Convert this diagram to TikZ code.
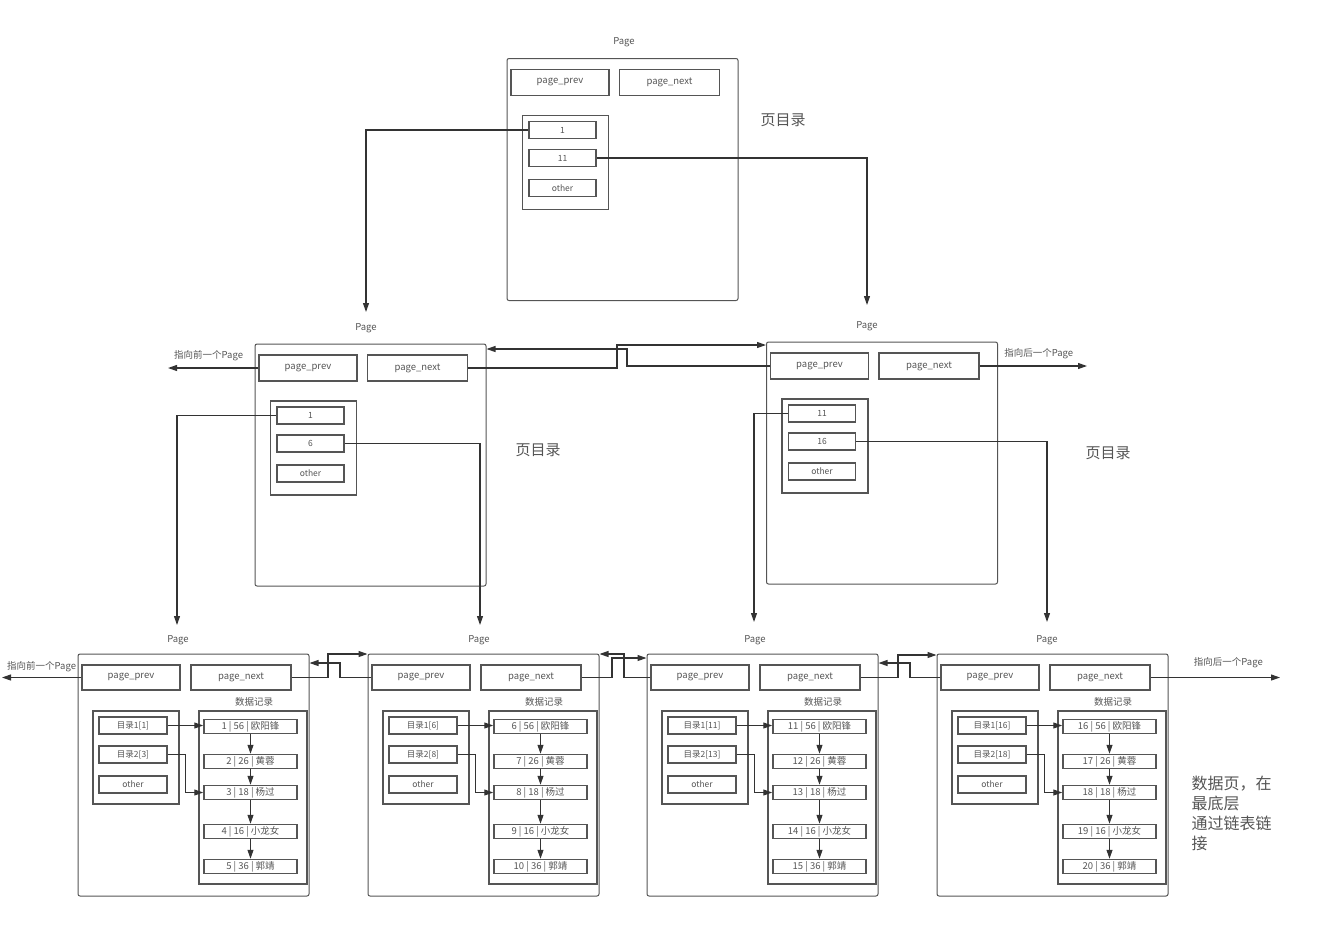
\documentclass[tikz,border=0pt]{standalone}
\usepackage{fontspec}
\setmainfont{Noto Sans CJK SC}
\usetikzlibrary{arrows.meta}
\definecolor{linec}{HTML}{333333}
\definecolor{boxc}{HTML}{555555}
\definecolor{textc}{HTML}{555555}
\tikzset{
  pagebox/.style = {draw=boxc, line width=1pt, rounded corners=2pt, inner sep=0pt,
                    minimum width=231, minimum height=242},
  field/.style   = {draw=boxc, line width=1.5pt, inner sep=0pt, text=textc,
                    font=\fontsize{9.5}{10}\selectfont},
  entry/.style   = {field, minimum width=67, minimum height=17,
                    font=\fontsize{8.5}{9}\selectfont},
  rec/.style     = {field, minimum width=93, minimum height=14},
  dirbox/.style  = {draw=boxc, line width=1.2pt, inner sep=0pt,
                    minimum width=86, minimum height=94},
  lbl/.style     = {font=\fontsize{9.5}{10}\selectfont, text=textc},
  biglbl/.style  = {font=\fontsize{15}{18}\selectfont, text=textc},
  arr/.style     = {draw=linec, line width=1.1pt, -{Triangle[length=9pt,width=6pt]}},
}
\begin{document}
\begin{tikzpicture}[x=1pt, y=-1pt]
\useasboundingbox (0,0) rectangle (1336,930);

% directory pages
\foreach \m/\cx/\cy/\lx/\a/\b in {top/622.5/179.5/624/1/11, ml/370.5/465/366/1/6, mr/882/463/867/11/16} {
  \node[pagebox] (\m) at (\cx,\cy) {};
  \node[lbl] (\m-lbl) at (\lx,\cy-137) {Page};
  \node[field, minimum width=98, minimum height=26] (\m-prev) at (\cx-62.5,\cy-97) {page\_prev};
  \node[field, minimum width=100, minimum height=26] (\m-next) at (\cx+47,\cy-97) {page\_next};
  \node[dirbox] (\m-dir) at (\cx-57,\cy-17) {};
  \node[entry] (\m-1) at (\cx-60,\cy-49.5) {\a};
  \node[entry] (\m-2) at (\cx-60,\cy-21.5) {\b};
  \node[entry] (\m-o) at (\cx-60,\cy+8.5) {other};
}
\node[biglbl] (top-t) at (783,120) {页目录};
\node[biglbl] (ml-t) at (538,450) {页目录};
\node[biglbl] (mr-t) at (1108,453) {页目录};

% free ends
\coordinate (ml-in) at (366,312);
\coordinate (mr-in) at (867,305);
\coordinate (ml-out) at (168,368);
\coordinate (mr-out) at (1087,366);
\coordinate (b1-in) at (177,625);
\coordinate (b2-in) at (480,625);
\coordinate (b3-in) at (754,622);
\coordinate (b4-in) at (1047,622);
\coordinate (b-outl) at (2,677.5);
\coordinate (b-outr) at (1280,677.5);

\draw[arr] (top-1.west) -| (ml-in);
\draw[arr] (top-2.east) -| (mr-in);

\draw[arr] (ml-next.east) -| (617,345) -- (mr.west |- 0,345);
\draw[arr] (mr-prev.west) -| (627,349) -- (ml.east |- 0,349);
\draw[arr] (ml-prev.west) -- (ml-out) node[lbl, pos=0.55, above=3pt] {指向前一个Page};
\draw[arr] (mr-next.east) -- (mr-out) node[lbl, pos=0.55, above=3pt] {指向后一个Page};

\draw[arr] (ml-1.west) -| (b1-in);
\draw[arr] (ml-2.east) -| (b2-in);
\draw[arr] (mr-1.west) -| (b3-in);
\draw[arr] (mr-2.east) -| (b4-in);

% data pages
\foreach \x/\lx/\n/\d/\k in {78/178/1/1/3, 368/479/2/6/8, 647/755/3/11/13, 937/1047/4/16/18} {
  \node[pagebox] (b\n) at (\x+115.5,775) {};
  \node[lbl] (b\n-lbl) at (\lx,640) {Page};
  \node[field, minimum width=98, minimum height=25] (b\n-prev) at (\x+53,677.5) {page\_prev};
  \node[field, minimum width=100, minimum height=25] (b\n-next) at (\x+163,677.5) {page\_next};
  \node[dirbox, minimum height=93] (b\n-dir) at (\x+58,757.5) {};
  \node[entry, minimum width=68] (b\n-d1) at (\x+55,725.5) {目录1[\d]};
  \node[entry, minimum width=68] (b\n-d2) at (\x+55,754.5) {目录2[\k]};
  \node[entry, minimum width=68] (b\n-o) at (\x+55,784.5) {other};
  \node[lbl] (b\n-t) at (\x+176,702) {数据记录};
  \node[dirbox, minimum width=108, minimum height=173] (b\n-data) at (\x+175,797.5) {};
  \foreach \i/\age/\name/\ry in {0/56/欧阳锋/726.5, 1/26/黄蓉/761.5, 2/18/杨过/792.5,
                                 3/16/小龙女/831.5, 4/36/郭靖/866.5} {
    \pgfmathtruncatemacro\id{\d+\i}
    \node[rec] (b\n-r\i) at (\x+172.5,\ry) {\id~|~\age~|~\name};
  }
  \foreach \i/\j in {0/1, 1/2, 2/3, 3/4}
    \draw[arr] (b\n-r\i.south) -- (b\n-r\j.north);
  \draw[arr] (b\n-d1.east) -- (b\n-d1.east -| b\n-r0.west);
  \draw[arr] (b\n-d2.east) -- ++(18,0) |- (b\n-r2.west);
}

% links between data pages
\foreach \a/\b/\u/\v/\yn/\yp in {1/2/328/340/654/663, 2/3/612/624/658/654, 3/4/898/910/655/663} {
  \draw[arr] (b\a-next.east) -| (\u,\yn) -- (b\b.west |- 0,\yn);
  \draw[arr] (b\b-prev.west) -| (\v,\yp) -- (b\a.east |- 0,\yp);
}
\draw[arr] (b1-prev.west) -- (b-outl) node[lbl, pos=0.5, above=2pt] {指向前一个Page};
\draw[arr] (b4-next.east) -- (b-outr) node[lbl, pos=0.6, above=6pt] {指向后一个Page};

\node[font=\fontsize{16}{20}\selectfont, text=textc, align=left, anchor=north west]
  (note) at (1188,772) {数据页，在\\最底层\\通过链表链\\接};

\end{tikzpicture}
\end{document}
